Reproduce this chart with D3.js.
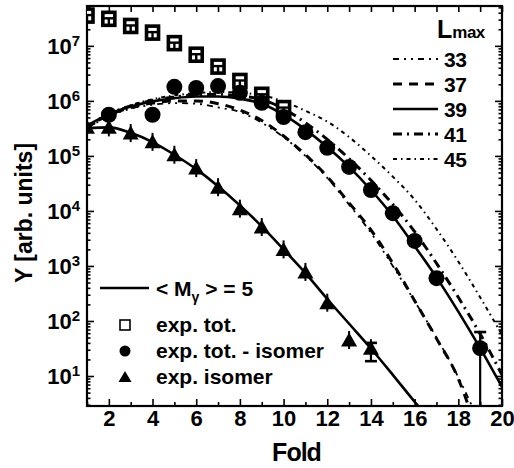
<!DOCTYPE html>
<html>
<head>
<meta charset="utf-8">
<script src="https://cdn.jsdelivr.net/npm/d3@7"></script>
<style>
  body { margin: 0; background: #fff; }
  text { font-family: "Liberation Sans", Arial, sans-serif; font-weight: bold; fill: #000; }
</style>
</head>
<body>
<div id="viz"></div>
<script>
// ---- data ----
// exp. tot. (open squares)
const totFold = [1, 2, 3, 4, 5, 6, 7, 8, 9, 10];
const totY = [3.55e7, 3.1e7, 2.3e7, 1.74e7, 1.12e7, 6.9e6, 4.2e6, 2.3e6, 1.29e6, 7.4e5];

// exp. tot. - isomer (filled circles)
const subFold = [2, 4, 5, 6, 7, 8, 9, 10, 11, 12, 13, 14, 15, 16, 17, 19];
const subY = [5.6e5, 5.6e5, 1.8e6, 1.72e6, 1.86e6, 1.4e6, 9.2e5, 5.1e5, 2.7e5, 1.4e5, 6.3e4, 2.4e4, 9.1e3, 2.85e3, 600, 32];

// exp. isomer (filled triangles)
const isoFold = [1, 2, 3, 4, 5, 6, 7, 8, 9, 10, 11, 12, 13, 14];
const isoY = [3.3e5, 3.3e5, 2.6e5, 1.8e5, 1.05e5, 6.0e4, 2.7e4, 1.1e4, 5.1e3, 2.0e3, 780, 215, 45, 32];

// error bars that are big enough to see
const errFold = [14, 19];
const errLo = [18.6, 1];
const errHi = [40, 63];

// calculated curves, <M_gamma> = 5
const curveFold = [1, 2, 3, 4, 5, 6, 7, 8, 9, 10, 11, 12, 13, 14, 15, 16, 17, 18, 19, 20];
const isoFitFold = [1, 2, 3, 4, 5, 6, 7, 8, 9, 10, 11, 12, 13, 14, 15, 16, 16.4];
const isoFitY = [3.16e5, 3.3e5, 2.63e5, 1.78e5, 1.05e5, 5.75e4, 2.82e4, 1.26e4, 5.25e3, 2.0e3, 741, 251, 89, 31.6, 10.5, 3.4, 2.2];
const lmaxCurves = [
  { L: "33", fold: [1,2,3,4,5,6,7,8,9,10,11,12,13,14,15,16,17,18,18.8],
    y: [3.16e5, 5.25e5, 7.2e5, 8.5e5, 9.1e5, 8.9e5, 7.6e5, 6.3e5, 4.0e5, 2.2e5, 1.0e5, 4.0e4, 1.3e4, 4.0e3, 1.0e3, 229, 50, 9.5, 2.0] },
  { L: "37", fold: [1,2,3,4,5,6,7,8,9,10,11,12,13,14,15,16,17,18,18.6],
    y: [3.3e5, 5.5e5, 7.6e5, 9.1e5, 1.0e6, 1.0e6, 8.9e5, 6.8e5, 4.4e5, 2.3e5, 1.05e5, 4.2e4, 1.4e4, 4.5e3, 1.12e3, 234, 48, 8.9, 2.0] },
  { L: "39", fold: curveFold,
    y: [3.55e5, 5.75e5, 7.9e5, 9.8e5, 1.12e6, 1.2e6, 1.2e6, 1.1e6, 8.9e5, 5.6e5, 3.0e5, 1.45e5, 6.3e4, 2.4e4, 8.1e3, 2.3e3, 620, 148, 32, 6.3] },
  { L: "41", fold: curveFold,
    y: [3.4e5, 5.75e5, 8.1e5, 1.02e6, 1.17e6, 1.29e6, 1.32e6, 1.23e6, 1.05e6, 7.2e5, 4.0e5, 2.0e5, 8.9e4, 3.6e4, 1.32e4, 4.2e3, 1.12e3, 269, 58, 10.5] },
  { L: "45", fold: curveFold,
    y: [3.16e5, 5.6e5, 8.3e5, 1.07e6, 1.26e6, 1.38e6, 1.45e6, 1.41e6, 1.26e6, 9.8e5, 6.6e5, 4.2e5, 2.2e5, 1.0e5, 4.2e4, 1.6e4, 4.7e3, 1.2e3, 269, 56] }
];

// line styles per L_max
const styles = {
  "33": { w: 1.8, dash: "6 5 2 5 2 5" },
  "37": { w: 3, dash: "9 7" },
  "39": { w: 2.6, dash: null },
  "41": { w: 3, dash: "9 5 2 5" },
  "45": { w: 2, dash: "4 4 1.5 4" }
};

// ---- canvas ----
const W = 514, H = 468;
const plot = { left: 87, top: 6, right: 502, bottom: 406 };

const svg = d3.select("#viz").append("svg")
  .attr("width", W)
  .attr("height", H);

const x = d3.scaleLinear().domain([1, 20]).range([plot.left, plot.right]);
const y = d3.scaleLog().domain([2.85, 5.3e7]).range([plot.bottom, plot.top]);

svg.append("clipPath").attr("id", "clip")
  .append("rect")
  .attr("x", plot.left).attr("y", plot.top)
  .attr("width", plot.right - plot.left).attr("height", plot.bottom - plot.top);

// ---- axes ----
const majorX = d3.range(2, 21, 2);
const minorX = d3.range(1, 20, 2);
const decades = [1e1, 1e2, 1e3, 1e4, 1e5, 1e6, 1e7];
const minorY = [];
[1, 10, 100, 1e3, 1e4, 1e5, 1e6, 1e7].forEach(d => {
  for (let k = 2; k <= 9; k++) {
    const v = d * k;
    if (v > 2.85 && v < 5.3e7) minorY.push(v);
  }
});

//bottom
const gBottom = svg.append("g")
  .attr("transform", `translate(0,${plot.bottom})`)
  .call(d3.axisBottom(x).tickValues(majorX).tickSizeInner(-7).tickSizeOuter(0).tickPadding(4));
gBottom.selectAll("text").style("font-size", "22px");
svg.append("g")
  .attr("transform", `translate(0,${plot.bottom})`)
  .call(d3.axisBottom(x).tickValues(minorX).tickSizeInner(-4).tickSizeOuter(0).tickFormat(""));

//top
svg.append("g")
  .attr("transform", `translate(0,${plot.top})`)
  .call(d3.axisTop(x).tickValues(majorX.concat(minorX)).tickSizeInner(-6).tickSizeOuter(0).tickFormat(""));

//left
const gLeft = svg.append("g")
  .attr("transform", `translate(${plot.left},0)`)
  .call(d3.axisLeft(y).tickValues(decades).tickSizeInner(-7).tickSizeOuter(0).tickPadding(15).tickFormat(""));
gLeft.selectAll(".tick").append("text")
  .attr("x", -7)
  .attr("dy", "0.36em")
  .attr("text-anchor", "end")
  .style("font-size", "22px")
  .each(function(d) {
    const t = d3.select(this);
    t.append("tspan").text("10");
    t.append("tspan")
      .attr("dy", "-0.55em")
      .style("font-size", "15px")
      .text(Math.round(Math.log10(d)));
  });
svg.append("g")
  .attr("transform", `translate(${plot.left},0)`)
  .call(d3.axisLeft(y).tickValues(minorY).tickSizeInner(-3.5).tickSizeOuter(0).tickFormat(""));

//right
svg.append("g")
  .attr("transform", `translate(${plot.right},0)`)
  .call(d3.axisRight(y).tickValues(decades).tickSizeInner(-7).tickSizeOuter(0).tickFormat(""));
svg.append("g")
  .attr("transform", `translate(${plot.right},0)`)
  .call(d3.axisRight(y).tickValues(minorY).tickSizeInner(-3.5).tickSizeOuter(0).tickFormat(""));

svg.selectAll(".domain").remove();
svg.selectAll(".tick line").attr("stroke", "#000").attr("stroke-width", 1.6);

//frame
svg.append("rect")
  .attr("x", plot.left).attr("y", plot.top)
  .attr("width", plot.right - plot.left).attr("height", plot.bottom - plot.top)
  .attr("fill", "none").attr("stroke", "#000").attr("stroke-width", 2.2);

// axis titles
svg.append("text")
  .attr("x", (plot.left + plot.right) / 2 + 2)
  .attr("y", 461)
  .attr("text-anchor", "middle")
  .style("font-size", "25px")
  .style("letter-spacing", "-1px")
  .text("Fold");

svg.append("text")
  .attr("transform", "translate(32,213) rotate(-90)")
  .attr("text-anchor", "middle")
  .style("font-size", "23px")
  .text("Y [arb. units]");

// ---- curves ----
const plotArea = svg.append("g").attr("clip-path", "url(#clip)");
const line = d3.line()
  .x(d => x(d[0]))
  .y(d => y(d[1]))
  .curve(d3.curveMonotoneX);

lmaxCurves.forEach(c => {
  const st = styles[c.L];
  plotArea.append("path")
    .attr("d", line(c.fold.map((f, i) => [f, c.y[i]])))
    .attr("fill", "none")
    .attr("stroke", "#000")
    .attr("stroke-width", st.w)
    .attr("stroke-dasharray", st.dash);
});

plotArea.append("path")
  .attr("d", line(isoFitFold.map((f, i) => [f, isoFitY[i]])))
  .attr("fill", "none")
  .attr("stroke", "#000")
  .attr("stroke-width", 2.6);

// ---- error bars ----
errFold.forEach((f, i) => {
  const cx = x(f);
  plotArea.append("line")
    .attr("x1", cx).attr("x2", cx)
    .attr("y1", y(errLo[i])).attr("y2", y(errHi[i]))
    .attr("stroke", "#000").attr("stroke-width", 2.2);
  [errLo[i], errHi[i]].forEach(v => {
    if (y(v) > plot.bottom) return;
    plotArea.append("line")
      .attr("x1", cx - 6).attr("x2", cx + 6)
      .attr("y1", y(v)).attr("y2", y(v))
      .attr("stroke", "#000").attr("stroke-width", 2.6);
  });
});

// ---- markers ----
const triPath = "M0,-7.5 L8,6.5 L-8,6.5 Z";

//squares: exp. tot. (heavy outline, error-bar cross inside)
totFold.forEach((f, i) => {
  const g = plotArea.append("g").attr("transform", `translate(${x(f)},${y(totY[i])})`);
  g.append("rect")
    .attr("x", -6).attr("y", -6.5).attr("width", 12).attr("height", 13)
    .attr("fill", "#fff").attr("stroke", "#000").attr("stroke-width", 3.6);
  g.append("line").attr("x1", -6).attr("x2", 6).attr("y1", -0.5).attr("y2", -0.5)
    .attr("stroke", "#000").attr("stroke-width", 2.4);
  g.append("line").attr("x1", 0).attr("x2", 0).attr("y1", -0.5).attr("y2", 6)
    .attr("stroke", "#000").attr("stroke-width", 2.4);
});

//triangles: exp. isomer
isoFold.forEach((f, i) => {
  const g = plotArea.append("g").attr("transform", `translate(${x(f)},${y(isoY[i])})`);
  g.append("line").attr("x1", 0).attr("x2", 0).attr("y1", -9).attr("y2", 9)
    .attr("stroke", "#000").attr("stroke-width", 2);
  g.append("path").attr("d", triPath).attr("fill", "#000");
});

//circles: exp. tot. - isomer
plotArea.selectAll("circle.sub")
  .data(subFold)
  .enter()
  .append("circle")
  .attr("class", "sub")
  .attr("cx", d => x(d))
  .attr("cy", (d, i) => y(subY[i]))
  .attr("r", 8)
  .attr("fill", "#000");

// ---- legend: L_max ----
const lg = svg.append("g");
lg.append("text")
  .attr("x", 437).attr("y", 38)
  .style("font-size", "25px")
  .text("L")
  .append("tspan")
  .style("font-size", "17px")
  .style("letter-spacing", "-0.5px")
  .text("max");

lmaxCurves.forEach((c, i) => {
  const ly = 59 + i * 25;
  const st = styles[c.L];
  lg.append("line")
    .attr("x1", 393).attr("x2", 438)
    .attr("y1", ly).attr("y2", ly)
    .attr("stroke", "#000")
    .attr("stroke-width", st.w)
    .attr("stroke-dasharray", st.dash);
  lg.append("text")
    .attr("x", 444).attr("y", ly + 8)
    .style("font-size", "21px")
    .style("letter-spacing", "-0.5px")
    .text(c.L);
});

// ---- legend: data ----
const dl = svg.append("g");
dl.append("line")
  .attr("x1", 100).attr("x2", 149)
  .attr("y1", 288).attr("y2", 288)
  .attr("stroke", "#000").attr("stroke-width", 2.6);
const mt = dl.append("text").attr("x", 156).attr("y", 296).style("font-size", "21px");
mt.append("tspan").text("< M");
mt.append("tspan").attr("dy", 6).style("font-size", "14px").text("γ");
mt.append("tspan").attr("dy", -6).text(" > = 5");

const legRows = ["exp. tot.", "exp. tot. - isomer", "exp. isomer"];
legRows.forEach((label, i) => {
  const ry = 325 + i * 26;
  if (i === 0) {
    dl.append("rect").attr("x", 120).attr("y", ry - 5).attr("width", 10).attr("height", 10)
      .attr("fill", "#fff").attr("stroke", "#000").attr("stroke-width", 1.6);
  } else if (i === 1) {
    dl.append("circle").attr("cx", 125).attr("cy", ry).attr("r", 5.5).attr("fill", "#000");
  } else {
    dl.append("path").attr("d", "M0,-6 L6.5,5 L-6.5,5 Z")
      .attr("transform", `translate(125,${ry})`).attr("fill", "#000");
  }
  dl.append("text")
    .attr("x", 156).attr("y", ry + 7)
    .style("font-size", "21px")
    .text(label);
});
</script>
</body>
</html>
